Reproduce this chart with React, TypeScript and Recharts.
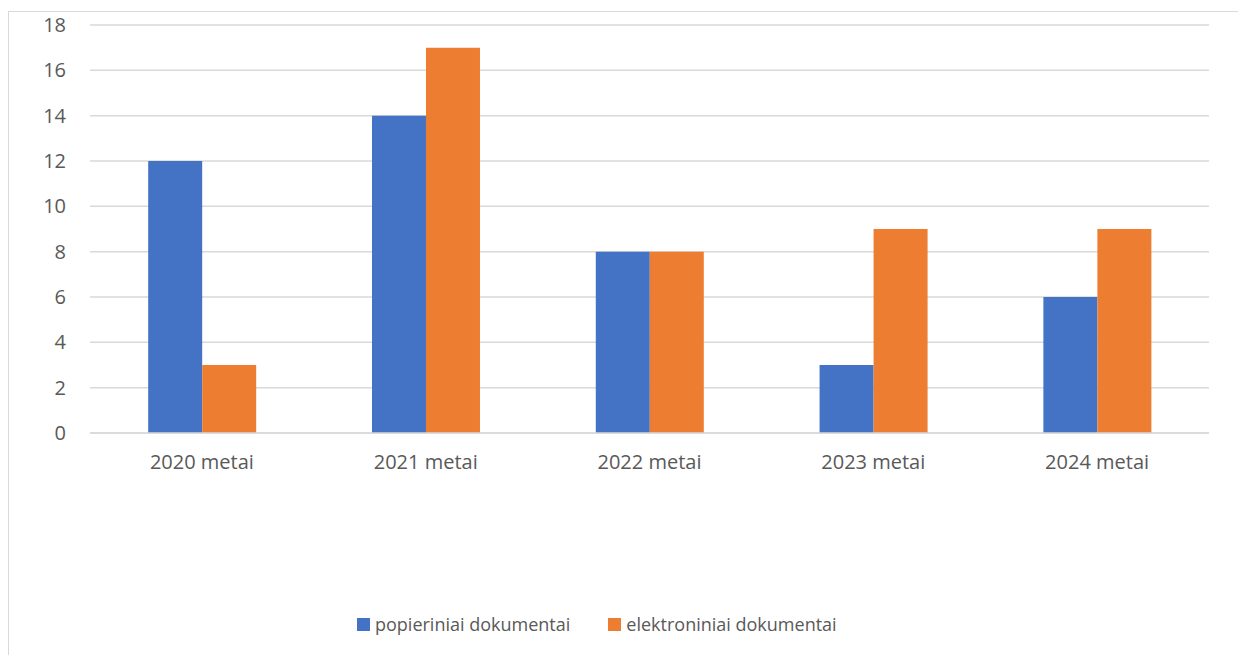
import { BarChart, Bar, XAxis, YAxis, CartesianGrid } from "recharts";

const years = ["2020 metai", "2021 metai", "2022 metai", "2023 metai", "2024 metai"];
const paper = [12, 14, 8, 3, 6];
const electronic = [3, 17, 8, 9, 9];
const yTicks = [0, 2, 4, 6, 8, 10, 12, 14, 16, 18];

const series = [
  { key: "paper", name: "popieriniai dokumentai", color: "#4472C4" },
  { key: "electronic", name: "elektroniniai dokumentai", color: "#ED7D31" },
];

const data = years.map((y, i) => ({ year: y, paper: paper[i], electronic: electronic[i] }));

const font = "'Open Sans', 'Noto Sans', sans-serif";
const tick = { fontSize: 20, fill: "#595959", fontFamily: font };

export default function App() {
  return (
    <div style={{ position: "relative", marginTop: 3, width: 1260, height: 660, border: "1px solid #d9d9d9", boxSizing: "border-box", background: "#fff" }}>
      <BarChart width={1237} height={640} data={data} barCategoryGap="26%" barGap={0}
        margin={{ top: 13, right: 37, left: 0, bottom: 189 }}>
        <CartesianGrid vertical={false} stroke="#d9d9d9" strokeWidth={1.5} />
        <XAxis dataKey="year" tick={tick} axisLine={{ stroke: "#d9d9d9", strokeWidth: 1.5 }} tickLine={false} tickMargin={16} interval={0} />
        <YAxis domain={[0, 18]} ticks={yTicks} tick={tick} axisLine={false} tickLine={false} tickSize={0} tickMargin={24} width={81} />
        {series.map(s => (
          <Bar key={s.key} dataKey={s.key} name={s.name} fill={s.color} isAnimationActive={false} />
        ))}
      </BarChart>
      <div style={{ position: "absolute", left: 348, top: 600, height: 24, display: "flex", alignItems: "center", gap: 38, fontFamily: font, fontSize: 18, color: "#595959" }}>
        {series.map(s => (
          <div key={s.key} style={{ display: "flex", alignItems: "center" }}>
            <span style={{ width: 13, height: 13, background: s.color, marginRight: 5 }} />
            {s.name}
          </div>
        ))}
      </div>
    </div>
  );
}
